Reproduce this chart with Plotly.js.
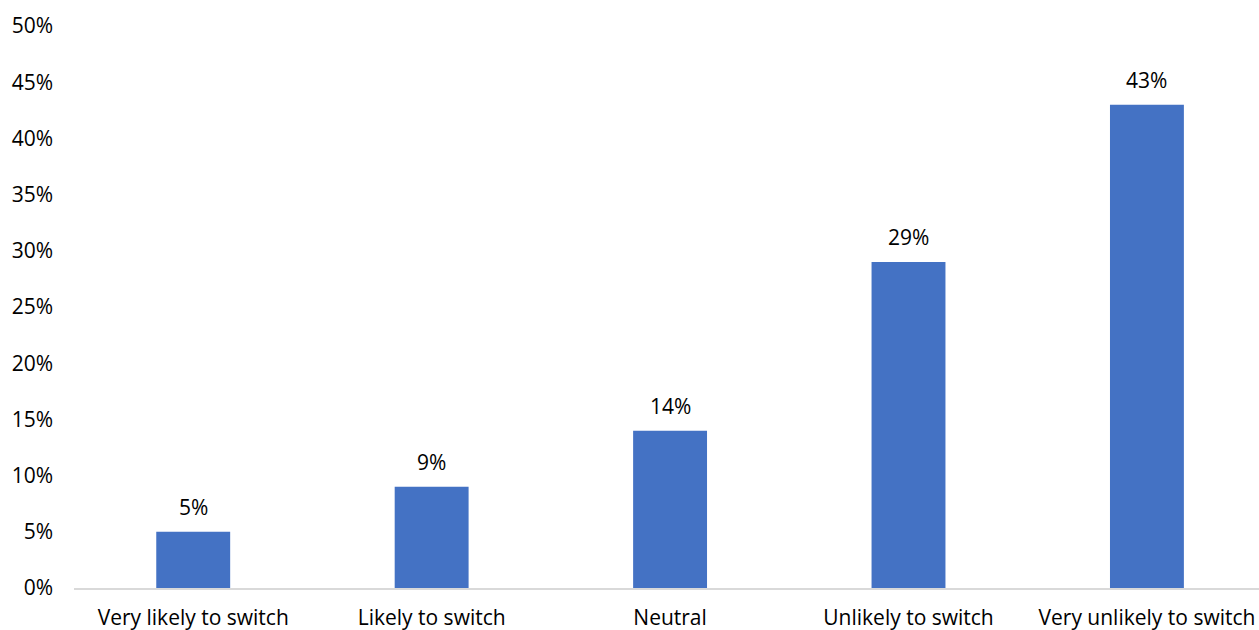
<!DOCTYPE html>
<html>
<head>
<meta charset="utf-8">
<script src="https://cdn.plot.ly/plotly-3.0.1.min.js"></script>
<style>html,body{margin:0;padding:0;overflow:hidden;background:#fff}#chart{width:1259px;height:630px}</style>
</head>
<body>
<div id="chart"></div>
<script>
const categories = ["Very likely to switch", "Likely to switch", "Neutral", "Unlikely to switch", "Very unlikely to switch"];
const values = [5, 9, 14, 29, 43];
const yTickVals = [0, 5, 10, 15, 20, 25, 30, 35, 40, 45, 50];
const yTickText = ["0%", "5%", "10%", "15%", "20%", "25%", "30%", "35%", "40%", "45%", "50%"];

const FONT = "Open Sans, Liberation Sans, sans-serif";
const trace = {
  type: "bar",
  x: categories,
  y: values,
  marker: {color: "#4472C4"},
  hoverinfo: "none"
};
const annotations = categories.map((c, i) => ({
  x: c, y: values[i], xref: "x", yref: "y",
  text: values[i] + "%", showarrow: false,
  yanchor: "bottom", yshift: 9,
  font: {family: FONT, size: 21, color: "#000"}
}));
const layout = {
  width: 1259, height: 630,
  margin: {l: 74, r: 0, t: 26, b: 41.5},
  paper_bgcolor: "#fff", plot_bgcolor: "#fff",
  bargap: 0.69,
  showlegend: false,
  xaxis: {
    type: "category",
    range: [-0.5, 4.47],
    showgrid: false, zeroline: false,
    showline: true, linecolor: "#d9d9d9", linewidth: 2,
    ticks: "", ticklabelstandoff: 10,
    tickfont: {family: FONT, size: 21, color: "#000"},
    fixedrange: true
  },
  yaxis: {
    range: [0, 50],
    tickvals: yTickVals, ticktext: yTickText,
    showgrid: false, zeroline: false, showline: false,
    ticks: "", ticklabelstandoff: 20,
    tickfont: {family: FONT, size: 21, color: "#000"},
    fixedrange: true
  },
  annotations: annotations
};
Plotly.newPlot("chart", [trace], layout, {displayModeBar: false, staticPlot: true});
</script>
</body>
</html>
